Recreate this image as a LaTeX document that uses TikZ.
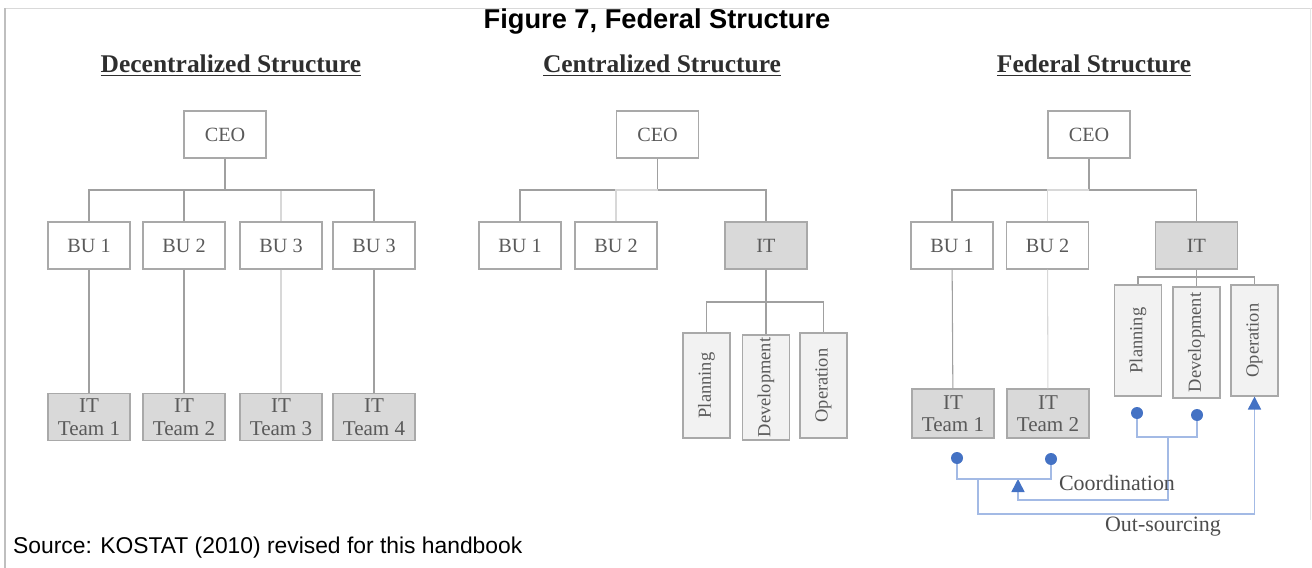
\documentclass[tikz,border=0pt]{standalone}
\usepackage{fontspec}
\setmainfont{Liberation Serif}
\newfontfamily\capfont{Liberation Sans}
\usetikzlibrary{arrows.meta}

\definecolor{boxline}{HTML}{A9A9A9}
\definecolor{linkgray}{HTML}{A0A0A0}
\definecolor{itfill}{HTML}{D9D9D9}
\definecolor{subfill}{HTML}{F2F2F2}
\definecolor{labelgray}{HTML}{5A5A5A}
\definecolor{headgray}{HTML}{2E2E2E}
\definecolor{dotblue}{HTML}{4472C4}
\definecolor{lineblue}{HTML}{A3BAE5}

\begin{document}
\begin{tikzpicture}
[x=0.02cm, y=-0.02cm,
 unit/.style={draw=boxline, fill=white, line width=0.6pt, inner sep=0pt,
   minimum width=1.64cm, minimum height=0.94cm, text=labelgray,
   font=\fontsize{11.5}{13}\selectfont},
 itunit/.style={unit, fill=itfill},
 team/.style={itunit, align=center, font=\fontsize{12}{12.8}\selectfont},
 sub/.style={unit, fill=subfill, rotate=90, minimum width=2.1cm,
   minimum height=0.94cm, font=\fontsize{10.5}{12}\selectfont},
 head/.style={text=headgray, font=\bfseries\fontsize{14.5}{17}\selectfont},
 link/.style={draw=linkgray, line width=0.6pt},
 faint/.style={draw=boxline!45, line width=0.6pt},
 dot/.style={circle, fill=dotblue, inner sep=0pt, minimum size=0.24cm},
 coord/.style={draw=lineblue, line width=0.9pt},
 coordarrow/.style={coord, -{Triangle[length=0.26cm, width=0.26cm, color=dotblue]}},
 tag/.style={text=headgray!85, font=\fontsize{12.5}{14}\selectfont}]
\useasboundingbox (0,0) rectangle (1312,568);

% frame of the figure
\draw[draw=black!15, line width=0.5pt] (5,8) -- (1312,8);
\draw[draw=black!25, line width=1.6pt] (5,8) -- (5,568);
\draw[draw=black!10, line width=0.5pt] (1310,8) -- (1310,520);

\node (title) at (657,22) [font=\capfont\bfseries\fontsize{15.5}{18}\selectfont] {Figure 7, Federal Structure};
\node (source) at (7,548) [anchor=west, font=\capfont\fontsize{13}{15}\selectfont] {Source: KOSTAT (2010) revised for this handbook};

% decentralized
\node (dhead) at (231,66) [head] {\underline{Decentralized Structure}};
\node (dceo) at (225,134.5) [unit] {CEO};
\coordinate (dbar) at (225,190);

\node (dbu1) at (89,245.5) [unit] {BU 1};
\node (dbu2) at (184,245.5) [unit] {BU 2};
\node (dbu3) at (281,245.5) [unit] {BU 3};
\node (dbu4) at (374,245.5) [unit] {BU 3};

\node (dit1) at (89,417) [team] {IT\\Team 1};
\node (dit2) at (184,417) [team] {IT\\Team 2};
\node (dit3) at (281,417) [team] {IT\\Team 3};
\node (dit4) at (374,417) [team] {IT\\Team 4};

\draw[link] (dceo) -- (dbar);
\draw[link] (dbar) -| (dbu1);
\draw[link] (dbar) -| (dbu2);
\draw[faint] (dbar) -| (dbu3);
\draw[link] (dbar) -| (dbu4);
\draw[link] (dbu1) -- (dit1);
\draw[link] (dbu2) -- (dit2);
\draw[faint] (dbu3) -- (dit3);
\draw[link] (dbu4) -- (dit4);

% centralized
\node (chead) at (662,66) [head] {\underline{Centralized Structure}};
\node (cceo) at (657.5,134.5) [unit] {CEO};
\coordinate (cbar) at (657.5,190);

\node (cbu1) at (520,245.5) [unit] {BU 1};
\node (cbu2) at (616,245.5) [unit] {BU 2};
\node (cit) at (766,245.5) [itunit] {IT};
\coordinate (csub) at (766,302);

\node (cpl) at (706.5,385.5) [sub] {Planning};
\node (cdev) at (766,387.5) [sub] {Development};
\node (cop) at (823.5,385.5) [sub] {Operation};

\draw[link] (cceo) -- (cbar);
\draw[link] (cbar) -| (cbu1);
\draw[faint] (cbar) -| (cbu2);
\draw[link] (cbar) -| (cit);
\draw[link] (cit) -- (cdev);
\draw[link] (csub) -| (cpl);
\draw[link] (csub) -| (cop);

% federal
\node (fhead) at (1094,66) [head] {\underline{Federal Structure}};
\node (fceo) at (1089,134.5) [unit] {CEO};
\coordinate (fbar) at (1089,190);

\node (fbu1) at (952,245.5) [unit] {BU 1};
\node (fbu2) at (1047.5,245.5) [unit] {BU 2};
\node (fit) at (1196.5,245.5) [itunit] {IT};
\coordinate (fsub) at (1196.5,277);

\node (fpl) at (1138,340.5) [sub, minimum width=2.22cm] {Planning};
\node (fdev) at (1196.5,342.5) [sub, minimum width=2.22cm] {Development};
\node (fop) at (1254.5,340.5) [sub, minimum width=2.22cm] {Operation};

\node (fit1) at (953,413.5) [team, minimum height=0.98cm] {IT\\Team 1};
\node (fit2) at (1048,413.5) [team, minimum height=0.98cm] {IT\\Team 2};

\draw[link] (fceo) -- (fbar);
\draw[link] (fbar) -| (fbu1);
\draw[faint] (fbar) -| (fbu2);
\draw[link] (fbar) -| (fit);
\draw[link] (fbu1) -- (fit1);
\draw[faint] (fbu2) -- (fit2);
\draw[link] (fit) -- (fdev);
\draw[link] (fsub) -| (fpl);
\draw[link] (fsub) -| (fop);

% coordination and out-sourcing
\node (fpldot) at (1137,413) [dot] {};
\node (fdevdot) at (1197,415) [dot] {};
\node (fit1dot) at (957,458) [dot] {};
\node (fit2dot) at (1051,459) [dot] {};

\coordinate (pdbar) at (1168,437);
\coordinate (pdlow) at (1018,500);
\coordinate (tbar) at (1018,479);
\coordinate (osrc) at (978,479);
\coordinate (oslow) at (978,514);

\draw[coord] (fpldot) |- (pdbar) -| (fdevdot);
\draw[coordarrow] (pdbar) |- (pdlow) -- (tbar);
\draw[coord] (fit1dot) |- (tbar) -| (fit2dot);
\draw[coordarrow] (osrc) -- (oslow) -| (fop);

\node (coordtag) at (1117,483) [tag] {Coordination};
\node (outtag) at (1163,527) [tag] {Out-sourcing};
\end{tikzpicture}
\end{document}
